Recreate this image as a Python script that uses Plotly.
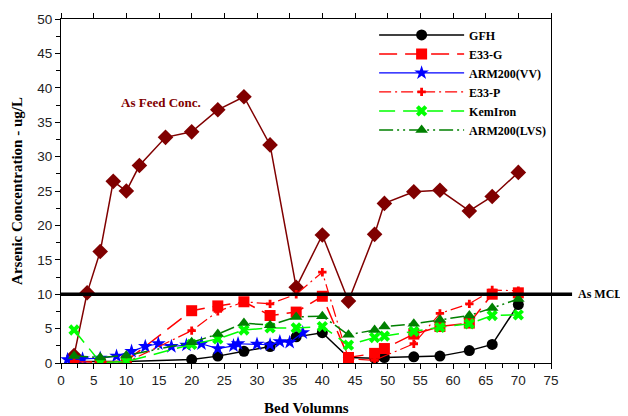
import plotly.graph_objects as go

# ---- data ----
feed_x = [2, 4, 6, 8, 10, 12, 16, 20, 24, 28, 32, 36, 40, 44, 48, 49.5, 54, 58, 62.5, 66, 70]
feed_y = [1.1, 10.2, 16.2, 26.4, 25.0, 28.7, 32.8, 33.6, 36.8, 38.7, 31.7, 11.0, 18.6, 9.0, 18.7, 23.2, 24.9, 25.1, 22.1, 24.2, 27.7]

gfh_x = [2, 6, 10, 20, 24, 28, 32, 36, 40, 44, 48, 49.5, 54, 58, 62.5, 66, 70]
gfh_y = [0.2, 0.2, 0.2, 0.5, 1.0, 1.7, 2.4, 3.8, 4.4, 0.8, 0.7, 0.8, 0.9, 1.0, 1.8, 2.7, 8.5]

e33g_x = [2, 6, 10, 20, 24, 28, 32, 36, 40, 44, 48, 49.5, 54, 58, 62.5, 66, 70]
e33g_y = [0.2, 0.1, 0.3, 7.6, 8.3, 8.9, 6.9, 7.4, 9.7, 0.8, 1.4, 2.1, 4.2, 5.3, 5.8, 10.0, 10.2]

vv_x = [1, 3.3, 6, 8.5, 10.8, 12.9, 14.9, 16.9, 19.2, 21.5, 24, 26.4, 27.1, 30, 32, 33.5, 35, 37]
vv_y = [0.5, 0.6, 0.7, 1.0, 1.7, 2.4, 2.8, 2.4, 2.6, 2.8, 2.1, 2.5, 2.8, 2.75, 2.65, 3.1, 3.0, 4.4]

e33p_x = [2, 6, 10, 20, 24, 28, 32, 36, 40, 44, 48, 54, 58, 62.5, 66, 70]
e33p_y = [0.2, 0.1, 0.1, 4.7, 7.5, 8.9, 8.6, 10.0, 13.2, 0.6, 0.4, 2.8, 7.2, 8.6, 10.6, 10.5]

kem_x = [2, 6, 10, 20, 24, 28, 32, 36, 40, 44, 48, 49.5, 54, 58, 62.5, 66, 70]
kem_y = [4.8, 0.1, 0.2, 2.7, 3.5, 4.8, 5.1, 5.1, 5.3, 2.6, 3.7, 3.9, 4.6, 5.2, 5.7, 6.9, 7.0]

lvs_x = [2, 6, 10, 20, 24, 28, 32, 36, 40, 44, 48, 49.5, 54, 58, 62.5, 66, 70]
lvs_y = [1.0, 0.8, 1.1, 3.0, 4.2, 5.8, 5.5, 6.7, 6.8, 4.1, 4.8, 5.3, 5.7, 6.3, 6.9, 8.0, 9.3]

mcl_value = 10

serif = "Liberation Serif"
sans = "Liberation Sans"

fig = go.Figure()

fig.add_trace(go.Scatter(x=feed_x, y=feed_y, mode="lines+markers", name="As Feed",
                         showlegend=False,
                         line=dict(color="#800000", width=1.5),
                         marker=dict(symbol="diamond", size=12, color="#800000")))

fig.add_trace(go.Scatter(x=gfh_x, y=gfh_y, mode="lines+markers", name="<b>GFH</b>",
                         line=dict(color="black", width=1.5),
                         marker=dict(symbol="circle", size=11, color="black")))

fig.add_trace(go.Scatter(x=e33g_x, y=e33g_y, mode="lines+markers", name="<b>E33-G</b>",
                         line=dict(color="#ff0000", width=1.5, dash="18px,8px"),
                         marker=dict(symbol="square", size=11, color="#ff0000")))

fig.add_trace(go.Scatter(x=vv_x, y=vv_y, mode="lines+markers", name="<b>ARM200(VV)</b>",
                         line=dict(color="#0000ff", width=1.2),
                         marker=dict(symbol="star", size=11, color="#0000ff")))

fig.add_trace(go.Scatter(x=e33p_x, y=e33p_y, mode="lines+markers", name="<b>E33-P</b>",
                         line=dict(color="#ff0000", width=1.2, dash="12px,4px,2px,4px"),
                         marker=dict(symbol="cross", size=7, color="#ff0000")))

fig.add_trace(go.Scatter(x=kem_x, y=kem_y, mode="lines+markers", name="<b>KemIron</b>",
                         line=dict(color="#00ff00", width=1.5, dash="16px,8px"),
                         marker=dict(symbol="x", size=10, color="#00ff00")))

fig.add_trace(go.Scatter(x=lvs_x, y=lvs_y, mode="lines+markers", name="<b>ARM200(LVS)</b>",
                         line=dict(color="#008000", width=1.5, dash="14px,4px,2px,4px,2px,4px"),
                         marker=dict(symbol="triangle-up", size=11, color="#008000")))

# MCL line (extends past the plot area on the right)
fig.add_shape(type="line", xref="paper", yref="y", x0=0, x1=1.043, y0=mcl_value, y1=mcl_value,
              line=dict(color="black", width=3.5))
fig.add_annotation(x=1.051, y=mcl_value, xref="paper", yref="y", text="<b>As MCL</b>",
                   showarrow=False, xanchor="left", yanchor="middle",
                   font=dict(family=serif, size=12, color="black"))

fig.add_annotation(x=15.3, y=37.9, xref="x", yref="y", text="<b>As Feed Conc.</b>",
                   showarrow=False, font=dict(family=serif, size=13, color="#800000"))

fig.add_annotation(x=0.5, y=-0.131, xref="paper", yref="paper", text="<b>Bed Volumns</b>",
                   showarrow=False, yanchor="middle", xanchor="center",
                   font=dict(family=serif, size=15, color="black"))

axis_common = dict(showgrid=False, zeroline=False, showline=True, linecolor="black",
                   linewidth=1.2, ticks="outside", ticklen=5, tickcolor="black",
                   automargin=False,
                   tickfont=dict(family=sans, size=13.5, color="#222"))

fig.update_layout(
    width=628, height=416,
    margin=dict(l=53, r=85, t=11, b=61),
    paper_bgcolor="white", plot_bgcolor="white",
    xaxis=dict(range=[0, 75], dtick=5, tick0=0, mirror=True,
               minor=dict(dtick=2.5, ticks="outside", ticklen=4, tickcolor="black"),
               **axis_common),
    xaxis2=dict(range=[0, 75], dtick=5, tick0=0, overlaying="x", side="top", anchor="y",
                showticklabels=False, showgrid=False, zeroline=False, showline=True,
                linecolor="black", linewidth=1.2, automargin=False,
                ticks="outside", ticklen=5, tickcolor="black"),
    yaxis=dict(range=[0, 50], dtick=5, tick0=0, mirror=True,
               minor=dict(dtick=2.5, ticks="outside", ticklen=4, tickcolor="black"),
               title=dict(text="<b>Arsenic Concentration - ug/L</b>",
                          font=dict(family=serif, size=15, color="black"), standoff=10),
               **axis_common),
    legend=dict(x=0.639, y=0.996, xanchor="left", yanchor="top",
                bgcolor="rgba(0,0,0,0)", itemwidth=85, tracegroupgap=0,
                font=dict(family=serif, size=12, color="black")),
    showlegend=True,
)

# invisible trace to activate top axis
fig.add_trace(go.Scatter(x=[0, 75], y=[0, 0], xaxis="x2", mode="markers",
                         marker=dict(opacity=0), showlegend=False, hoverinfo="skip"))

fig.write_html("out.html")
